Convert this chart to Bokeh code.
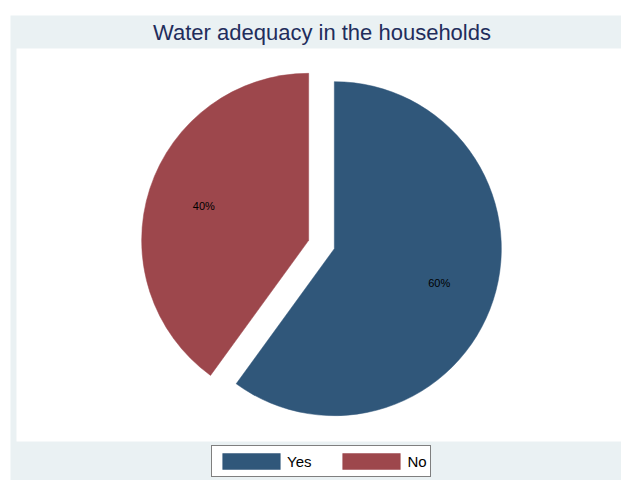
import math
from bokeh.plotting import figure
from bokeh.models import (Range1d, Legend, LegendItem, ColumnDataSource,
                          BoxAnnotation, Label)
from bokeh.core.properties import value
from bokeh.embed import file_html
from bokeh.resources import INLINE

# ---- data ----
categories = ["Yes", "No"]
values = [60, 40]
colors = ["#30577A", "#9D474C"]
title_text = "Water adequacy in the households"

# ---- layout constants (1 data unit = 1 px, origin at bottom-left) ----
FW, FH = 611, 465                       # whole graph region
PLOT_L, PLOT_R, PLOT_B, PLOT_T = 6, 611, 39, 432   # white plot region
CX, CY = 311, 236                       # pie centre
R = 167                                 # radius
EXPLODE = 13.5                          # explode distance for each slice
LABEL_POS = 0.66                        # label distance as fraction of radius

total = float(sum(values))
xs, ys, starts, ends, lx, ly, labels = [], [], [], [], [], [], []
cum = 0.0
for v in values:
    a0 = math.pi / 2 - 2 * math.pi * cum / total
    cum += v
    a1 = math.pi / 2 - 2 * math.pi * cum / total
    mid = (a0 + a1) / 2
    x = CX + EXPLODE * math.cos(mid)
    y = CY + EXPLODE * math.sin(mid)
    xs.append(x); ys.append(y)
    starts.append(a1); ends.append(a0)
    lx.append(x + LABEL_POS * R * math.cos(mid))
    ly.append(y + LABEL_POS * R * math.sin(mid))
    labels.append(f"{round(100 * v / total)}%")

src = ColumnDataSource(dict(x=xs, y=ys, start=starts, end=ends, color=colors,
                            cat=categories))
lsrc = ColumnDataSource(dict(x=lx, y=ly, text=labels))

p = figure(frame_width=FW, frame_height=FH, output_backend="svg",
           toolbar_location=None, x_range=Range1d(0, FW), y_range=Range1d(0, FH),
           x_axis_location=None, y_axis_location=None,
           min_border=0)
p.margin = (15, 0, 0, 10)
p.grid.visible = False
p.outline_line_color = None
p.background_fill_color = "#EAF1F3"
p.border_fill_color = "#EAF1F3"

# white plot region
p.add_layout(BoxAnnotation(left=PLOT_L, right=PLOT_R, bottom=PLOT_B, top=PLOT_T,
                           fill_color="white", fill_alpha=1.0, line_color=None,
                           level="underlay"))

# title
p.add_layout(Label(x=(PLOT_L + PLOT_R) / 2 + 3, y=(PLOT_T + FH) / 2,
                   text=title_text, text_align="center", text_baseline="middle",
                   text_font="Liberation Sans", text_font_size="22px",
                   text_color="#1F2D5C"))

r = p.wedge(x="x", y="y", radius=R, start_angle="start", end_angle="end",
            direction="anticlock", fill_color="color", line_color="color",
            line_width=0.5, source=src)

p.text(x="x", y="y", text="text", source=lsrc, text_align="center",
       text_baseline="middle", text_font=value("Liberation Sans"),
       text_font_size="11px", text_color="black")

legend = Legend(items=[LegendItem(label=c, renderers=[r], index=i)
                       for i, c in enumerate(categories)],
                orientation="horizontal", location=(201, 3),
                glyph_width=72, glyph_height=20, label_height=24,
                label_standoff=0, spacing=24, padding=3, margin=0,
                label_text_font="Liberation Sans", label_text_font_size="15px",
                label_text_color="black",
                border_line_color="black", border_line_width=1,
                background_fill_color="white", background_fill_alpha=1.0)
p.add_layout(legend, "center")

open("out.html", "w").write(file_html(p, INLINE))
